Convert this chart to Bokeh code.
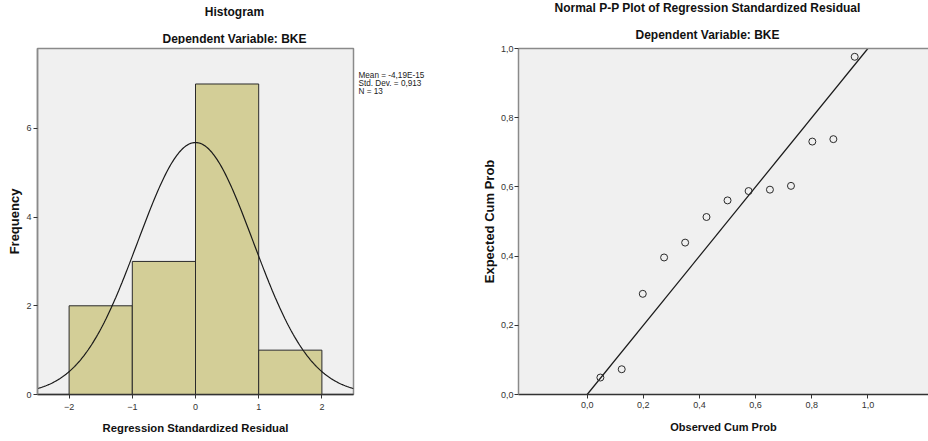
import numpy as np
from bokeh.plotting import figure
from bokeh.layouts import row, column
from bokeh.models import LinearAxis, FixedTicker, Range1d
from bokeh.core.properties import value
from bokeh.embed import file_html
from bokeh.resources import INLINE

# ---------------- data ----------------
bin_edges = [-2, -1, 0, 1, 2]
bin_counts = [2, 3, 7, 1]
resid_mean = -4.19e-15
resid_sd = 0.913
resid_n = 13
hist_x_ticks = [-2, -1, 0, 1, 2]
hist_y_ticks = [0, 2, 4, 6]
stats_lines = ["Mean = -4,19E-15", "Std. Dev. = 0,913", "N = 13"]
hist_titles = ["Histogram", "Dependent Variable: BKE"]

observed_cum = [0.047, 0.123, 0.198, 0.274, 0.349, 0.425, 0.500,
                0.575, 0.651, 0.726, 0.802, 0.877, 0.953]
expected_cum = [0.049, 0.073, 0.291, 0.396, 0.439, 0.513, 0.561,
                0.588, 0.592, 0.603, 0.731, 0.738, 0.976]
pp_ticks = [0.0, 0.2, 0.4, 0.6, 0.8, 1.0]
pp_tick_labels = ["0,0", "0,2", "0,4", "0,6", "0,8", "1,0"]
pp_titles = ["Normal P-P Plot of Regression Standardized Residual", "Dependent Variable: BKE"]
ref_line = [0.0, 1.0]

FONT = "Liberation Sans, Arial, sans-serif"
FRAME_BG = "#f0f0f0"
EDGE = "#8a8a8a"
DARK = "#333333"
W_LEFT, W_STATS, W_RIGHT = 355, 105, 468
H_TITLE = 44
H_PLOT = 441 - H_TITLE
TOP, BOTTOM = 4, 47          # frame spans y = 48 .. 394 of the page


def blank(width, height, x_end, y_start, y_end):
    f = figure(width=width, height=height, x_range=Range1d(0, x_end),
               y_range=Range1d(y_start, y_end), output_backend="svg",
               toolbar_location=None, title=None, min_border_left=0,
               min_border_right=0, min_border_top=0, min_border_bottom=0)
    f.axis.visible = False
    f.grid.visible = False
    f.outline_line_color = None
    f.background_fill_color = "white"
    f.border_fill_color = "white"
    return f


def style_axis(ax, line_color, label_size, tick_standoff, standoff):
    ax.axis_line_color = line_color
    ax.axis_line_width = 1.5
    ax.major_tick_line_color = DARK
    ax.major_tick_in = 0
    ax.major_tick_out = 4
    ax.minor_tick_line_color = None
    ax.major_label_text_font = FONT
    ax.major_label_text_font_size = "9px"
    ax.major_label_text_color = "#333333"
    ax.major_label_standoff = tick_standoff
    ax.axis_label_text_font = FONT
    ax.axis_label_text_font_size = label_size
    ax.axis_label_text_font_style = "bold"
    ax.axis_label_text_color = "#111111"
    ax.axis_label_standoff = standoff


# ---------------- title strips (pixel coordinates, y down) ----------------
t1 = blank(W_LEFT + W_STATS, H_TITLE, W_LEFT + W_STATS, H_TITLE, 0)
t1.text(x=[234, 234], y=[11, 38], text=hist_titles, text_font=value(FONT),
        text_font_size="12px", text_font_style="bold", text_color="#111111",
        text_align="center", text_baseline="middle")
t2 = blank(W_RIGHT, H_TITLE, W_RIGHT, H_TITLE, 0)
t2.text(x=[247, 247], y=[7.5, 34], text=pp_titles, text_font=value(FONT),
        text_font_size="12px", text_font_style="bold", text_color="#111111",
        text_align="center", text_baseline="middle")

# ---------------- histogram ----------------
p1 = figure(width=W_LEFT, height=H_PLOT, x_range=Range1d(-2.5, 2.5), y_range=Range1d(0, 7.8),
            output_backend="svg", toolbar_location=None, title=None,
            min_border_left=37, min_border_right=2, min_border_top=TOP,
            min_border_bottom=BOTTOM)
p1.background_fill_color = FRAME_BG
p1.border_fill_color = "white"
p1.outline_line_color = EDGE
p1.outline_line_width = 1.5
p1.grid.visible = False

p1.quad(left=bin_edges[:-1], right=bin_edges[1:], bottom=0, top=bin_counts,
        fill_color="#d3ce97", line_color="#2a2a2a", line_width=1)

xs = np.linspace(-2.5, 2.5, 300)
bin_w = bin_edges[1] - bin_edges[0]
ys = resid_n * bin_w / (resid_sd * np.sqrt(2 * np.pi)) * np.exp(-0.5 * ((xs - resid_mean) / resid_sd) ** 2)
p1.line(xs, ys, line_color="#1a1a1a", line_width=1.2)

p1.xaxis.ticker = FixedTicker(ticks=hist_x_ticks)
p1.yaxis.ticker = FixedTicker(ticks=hist_y_ticks)
p1.xaxis.axis_label = "Regression Standardized Residual"
p1.yaxis.axis_label = "Frequency"
style_axis(p1.xaxis[0], DARK, "11.3px", 5, 9)
style_axis(p1.yaxis[0], EDGE, "13px", 2, 1)

# ---------------- statistics box (pixel coordinates of the page, frame aligned with histogram) ----------------
ps = figure(width=W_STATS, height=H_PLOT, x_range=Range1d(0, W_STATS),
            y_range=Range1d(H_TITLE + H_PLOT - BOTTOM, H_TITLE + TOP),
            output_backend="svg", toolbar_location=None, title=None,
            min_border_left=0, min_border_right=0,
            min_border_top=TOP, min_border_bottom=BOTTOM)
ps.axis.visible = False
ps.grid.visible = False
ps.outline_line_color = None
ps.background_fill_color = "white"
ps.border_fill_color = "white"
ps.text(x=[3, 3, 3], y=[74.5, 82.8, 91.1], text=stats_lines,
        text_font=value(FONT), text_font_size="8.2px", text_color="#222222",
        text_baseline="alphabetic", text_align="left")

# ---------------- P-P plot ----------------
p2 = figure(width=W_RIGHT, height=H_PLOT, x_range=Range1d(-0.2447, 1.2159), y_range=Range1d(0, 1.0),
            output_backend="svg", toolbar_location=None, title=None,
            min_border_left=58, min_border_right=0, min_border_top=TOP,
            min_border_bottom=BOTTOM)
p2.background_fill_color = FRAME_BG
p2.border_fill_color = "white"
p2.outline_line_color = None
p2.grid.visible = False

p2.line(ref_line, ref_line, line_color="#1a1a1a", line_width=1.2)
p2.scatter(observed_cum, expected_cum, size=7, fill_color=None,
           line_color="#2a2a2a", line_width=1)

for ax in (p2.xaxis[0], p2.yaxis[0]):
    ax.ticker = FixedTicker(ticks=pp_ticks)
    ax.major_label_overrides = {t: l for t, l in zip(pp_ticks, pp_tick_labels)}
p2.xaxis.axis_label = "Observed Cum Prob"
p2.yaxis.axis_label = "Expected Cum Prob"
style_axis(p2.xaxis[0], DARK, "11px", 3, 10)
style_axis(p2.yaxis[0], EDGE, "13px", 1, 1)

top = LinearAxis(ticker=FixedTicker(ticks=[]), major_label_text_font_size="0px",
                 major_tick_line_color=None, minor_tick_line_color=None,
                 axis_line_color=EDGE, axis_line_width=1.5)
p2.add_layout(top, "above")

layout = column(row(t1, t2), row(p1, ps, p2))
open("out.html", "w").write(file_html(layout, INLINE))
